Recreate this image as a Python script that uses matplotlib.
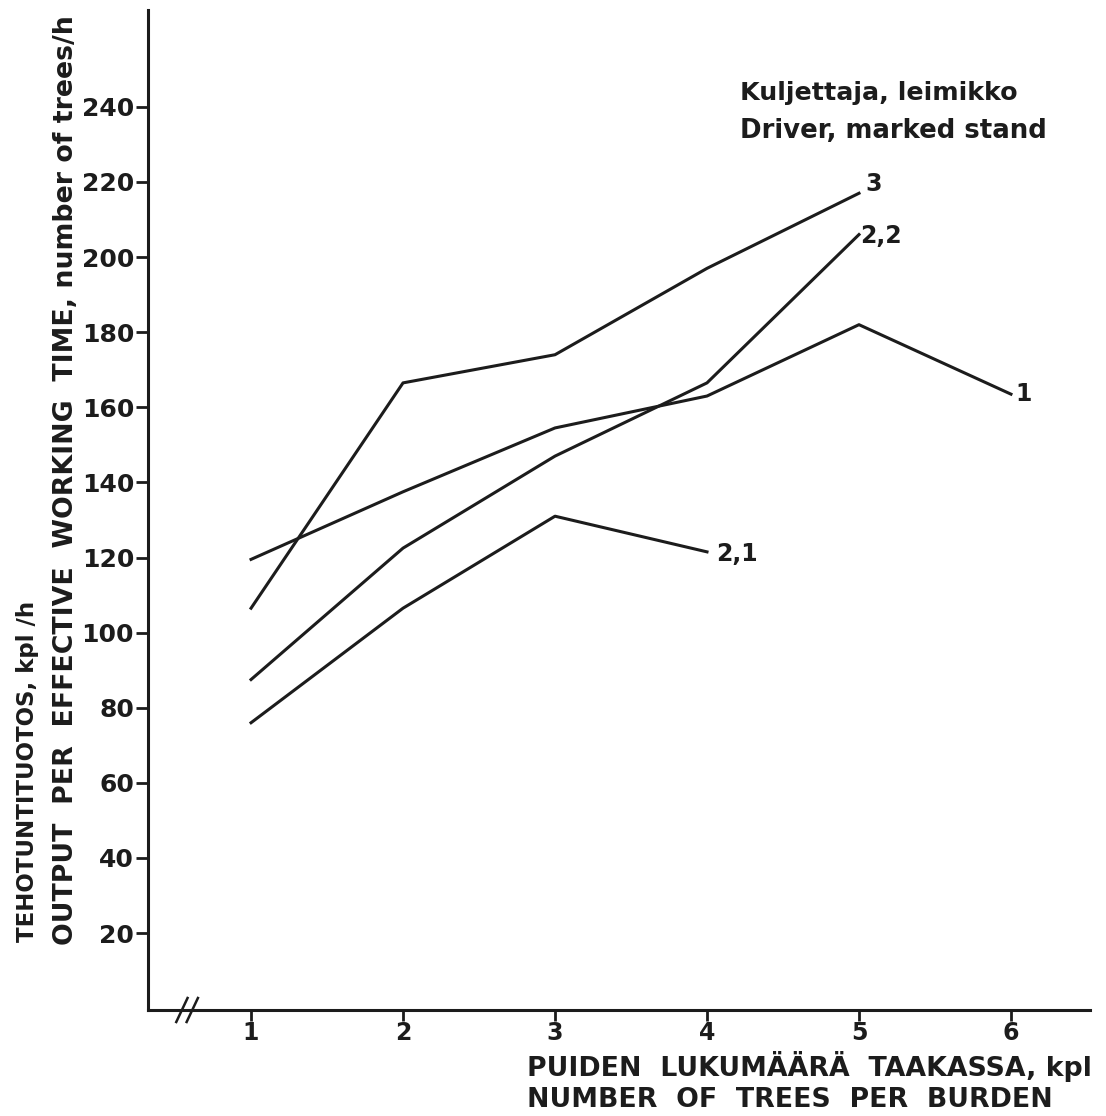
import matplotlib
matplotlib.use("Agg")
import matplotlib.pyplot as plt

# ---- data ----
trees = [1, 2, 3, 4, 5, 6]
series_1 = [119.5, 137.5, 154.5, 163, 182, 163.5]
series_3 = [106.5, 166.5, 174, 197, 217]
series_22 = [87.5, 122.5, 147, 166.5, 206]
series_21 = [76, 106.5, 131, 121.5]
yticks = [20, 40, 60, 80, 100, 120, 140, 160, 180, 200, 220, 240]
xticks = [1, 2, 3, 4, 5, 6]

plt.rcParams['font.family'] = ['DejaVu Sans']
ink = '#1c1c1c'

fig = plt.figure(figsize=(11.06, 11.16), dpi=100)
ax = fig.add_axes([148/1106, 1 - 1010/1116, 942/1106, 1000/1116])
ax.set_xlim(0.322, 6.52)
ax.set_ylim(-0.5, 265.8)

lw = 2.2
ax.plot(trees[:6], series_1, color=ink, lw=lw)
ax.plot(trees[:5], series_3, color=ink, lw=lw)
ax.plot(trees[:5], series_22, color=ink, lw=lw)
ax.plot(trees[:4], series_21, color=ink, lw=lw)

for s in ['top', 'right']:
    ax.spines[s].set_visible(False)
for s in ['left', 'bottom']:
    ax.spines[s].set_linewidth(2.2)
    ax.spines[s].set_color(ink)

ax.set_xticks(xticks)
ax.set_xticklabels([str(v) for v in xticks])
ax.set_yticks(yticks)
ax.set_yticklabels([str(v) for v in yticks])
ax.tick_params(axis='both', direction='out', length=9, width=2.0, color=ink,
               labelcolor=ink, labelsize=18)
ax.tick_params(axis='y', pad=1)
ax.tick_params(axis='x', pad=0, length=8, labelsize=17)
for lab in ax.get_xticklabels() + ax.get_yticklabels():
    lab.set_fontweight('bold')

# axis break mark on x-axis
for dx in (0.0, 0.011):
    ax.plot([0.030 + dx, 0.042 + dx], [-0.012, 0.012], transform=ax.transAxes,
            color=ink, lw=1.8, clip_on=False)

# series labels
fs = 17
ax.text(5.04, 219.5, '3', fontsize=fs, fontweight='bold', color=ink, va='center', ha='left')
ax.text(5.01, 205.5, '2,2', fontsize=fs, fontweight='bold', color=ink, va='center', ha='left')
ax.text(6.03, 163.5, '1', fontsize=fs, fontweight='bold', color=ink, va='center', ha='left')
ax.text(4.06, 121.0, '2,1', fontsize=fs, fontweight='bold', color=ink, va='center', ha='left')

# legend-like annotation
fig.text(740/1106, 1 - 93/1116, 'Kuljettaja, leimikko', fontsize=18.3, fontweight='bold',
         color=ink, ha='left', va='center')
fig.text(740/1106, 1 - 131/1116, 'Driver, marked stand', fontsize=18.7, fontweight='bold',
         color=ink, ha='left', va='center')

# axis titles
fig.text(527/1106, 1 - 1066/1116, 'PUIDEN  LUKUMÄÄRÄ  TAAKASSA, kpl', fontsize=19.3,
         fontweight='bold', color=ink, ha='left', va='center')
fig.text(527/1106, 1 - 1100/1116, 'NUMBER  OF  TREES  PER  BURDEN', fontsize=19.3,
         fontweight='bold', color=ink, ha='left', va='center')

fig.text(28/1106, 1 - 942/1116, 'TEHOTUNTITUOTOS, kpl /h', fontsize=16.5, fontweight='bold',
         color=ink, rotation=90, ha='center', va='bottom')
fig.text(66/1106, 1 - 945/1116, 'OUTPUT  PER  EFFECTIVE  WORKING  TIME, number of trees/h',
         fontsize=19.3, fontweight='bold', color=ink, rotation=90, ha='center', va='bottom')

fig.savefig('out.png', dpi=100, facecolor='white')
